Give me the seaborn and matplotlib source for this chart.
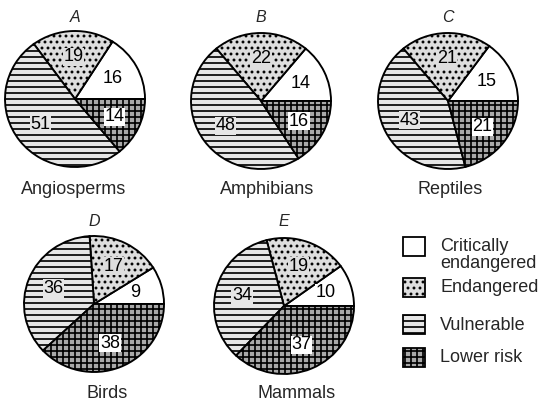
import matplotlib
matplotlib.use('Agg')
import matplotlib.pyplot as plt
import seaborn as sns
from matplotlib.patches import Rectangle

sns.set_theme(style="white")
plt.rcParams['font.family'] = ['Liberation Sans', 'DejaVu Sans']
plt.rcParams['hatch.linewidth'] = 1.7

# data (percent of species per threat category)
categories = ['Critically\nendangered', 'Endangered', 'Vulnerable', 'Lower risk']
letters = ['A', 'B', 'C', 'D', 'E']
groups = ['Angiosperms', 'Amphibians', 'Reptiles', 'Birds', 'Mammals']
critically = [16, 14, 15, 9, 10]
endangered = [19, 22, 21, 17, 19]
vulnerable = [51, 48, 43, 36, 34]
lower_risk = [14, 16, 21, 38, 37]

# styling per category
face_colors = ['white', '#dedede', '#e6e6e6', '#a9a9a9']
hatches = ['', '..', '--', '++']
label_bg = ['white', '#dedede', '#e6e6e6', 'white']

W, H = 548, 416
fig = plt.figure(figsize=(W / 72, H / 72), dpi=72)

# background axes in pixel coords (y from top) for texts and legend
ax_bg = fig.add_axes([0, 0, 1, 1])
ax_bg.set_xlim(0, W)
ax_bg.set_ylim(H, 0)
ax_bg.axis('off')

# layout (pixels)
centers = [(75, 99), (261, 101), (448, 101), (94, 304), (284, 306)]
rx, ry = 70, 68
pad = 1.05
letter_y = [18, 18, 18, 222, 222]
name_xy = [(74, 189), (267, 190), (450, 190), (107, 393), (297, 393)]

for i in range(len(groups)):
    cx, cy = centers[i]
    ax = fig.add_axes([(cx - rx * pad) / W, (H - cy - ry * pad) / H,
                       2 * rx * pad / W, 2 * ry * pad / H])
    vals = [critically[i], endangered[i], vulnerable[i], lower_risk[i]]
    wedges, _, autotexts = ax.pie(
        vals, colors=face_colors, hatch=hatches, startangle=0,
        counterclock=True, autopct=lambda p: f"{p:.0f}", pctdistance=0.62,
        wedgeprops=dict(edgecolor='black', linewidth=1.9),
        textprops=dict(fontsize=18, color='black'))
    for j, t in enumerate(autotexts):
        t.set_bbox(dict(facecolor=label_bg[j], edgecolor='none', pad=0.5))
    ax.set_xlim(-pad, pad)
    ax.set_ylim(-pad, pad)
    ax.set_aspect('auto')

    ax_bg.text(cx, letter_y[i], letters[i], fontsize=16, style='italic',
               ha='center', va='center')
    ax_bg.text(name_xy[i][0], name_xy[i][1], groups[i], fontsize=18,
               ha='center', va='center')

# legend drawn as swatches + text
box_top = [237, 278, 315, 348]
for j, cat in enumerate(categories):
    ax_bg.add_patch(Rectangle((403, box_top[j]), 22, 19, facecolor=face_colors[j],
                              hatch=hatches[j], edgecolor='black', linewidth=1.8))
    if '\n' in cat:
        ax_bg.text(440, box_top[j] + 1, cat, fontsize=18, ha='left', va='top',
                   linespacing=1.0)
    else:
        ax_bg.text(440, box_top[j] + 10, cat, fontsize=18, ha='left', va='center')

fig.savefig('out.png', dpi=72)
plt.close(fig)
